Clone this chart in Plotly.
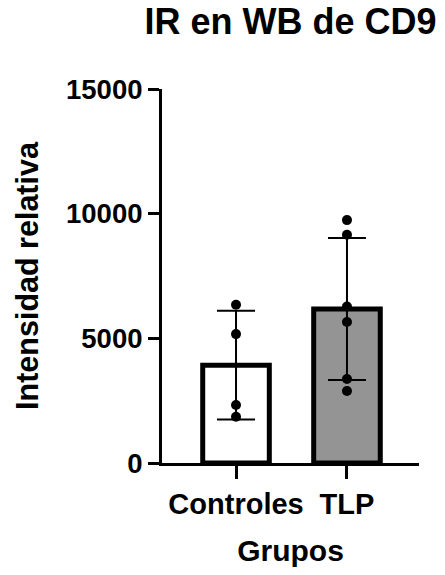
import numpy as np
import plotly.graph_objects as go

# Data
categories = ["Controles", "TLP"]
controles_points = [6345, 5170, 2323, 1853]
tlp_points = [9741, 9153, 6280, 5653, 3369, 2886]
bar_colors = ["#ffffff", "#949494"]
y_ticks = [0, 5000, 10000, 15000]

groups = [controles_points, tlp_points]
means = [float(np.mean(g)) for g in groups]
sds = [float(np.std(g, ddof=1)) for g in groups]

FONT = "Liberation Sans, Arial, sans-serif"

fig = go.Figure()
fig.add_trace(go.Bar(
    x=categories, y=means, width=0.6,
    marker=dict(color=bar_colors, line=dict(color="black", width=5)),
    error_y=dict(type="data", array=sds, visible=True, color="black",
                 thickness=2, width=19),
    showlegend=False,
))
for cat, pts in zip(categories, groups):
    fig.add_trace(go.Scatter(
        x=[cat] * len(pts), y=pts, mode="markers",
        marker=dict(color="black", size=10),
        showlegend=False, cliponaxis=False,
    ))

fig.update_layout(
    width=445, height=575, autosize=False,
    margin=dict(l=162, r=26, t=89, b=103),
    plot_bgcolor="white", paper_bgcolor="white",
    bargap=0.4,
    title=dict(text="IR en WB de CD9", x=0.5, xref="paper",
               y=1 - 21.5 / 575, yref="container", yanchor="middle",
               font=dict(family=FONT, size=36, color="black", weight="bold")),
    xaxis=dict(
        range=[-0.667, 1.649], showline=True, linecolor="black", linewidth=3,
        ticks="outside", ticklen=13, tickwidth=3, tickcolor="black",
        showgrid=False, zeroline=False,
        tickfont=dict(family=FONT, size=29, color="black", weight="bold"),
        title=dict(text="Grupos", standoff=22,
                   font=dict(family=FONT, size=30, color="black", weight="bold")),
    ),
    yaxis=dict(
        range=[0, 15000], tickvals=y_ticks, ticktext=[str(t) for t in y_ticks],
        showline=True, linecolor="black", linewidth=3,
        ticks="outside", ticklen=11, tickwidth=3, tickcolor="black",
        showgrid=False, zeroline=False,
        tickfont=dict(family=FONT, size=27.5, color="black", weight="bold"),
        title=dict(text="Intensidad relativa", standoff=19,
                   font=dict(family=FONT, size=30.5, color="black", weight="bold")),
    ),
)

fig.write_html(
    "out.html",
    config={"displayModeBar": False},
    post_script="document.body.style.margin='0';document.body.style.overflow='hidden';",
)
